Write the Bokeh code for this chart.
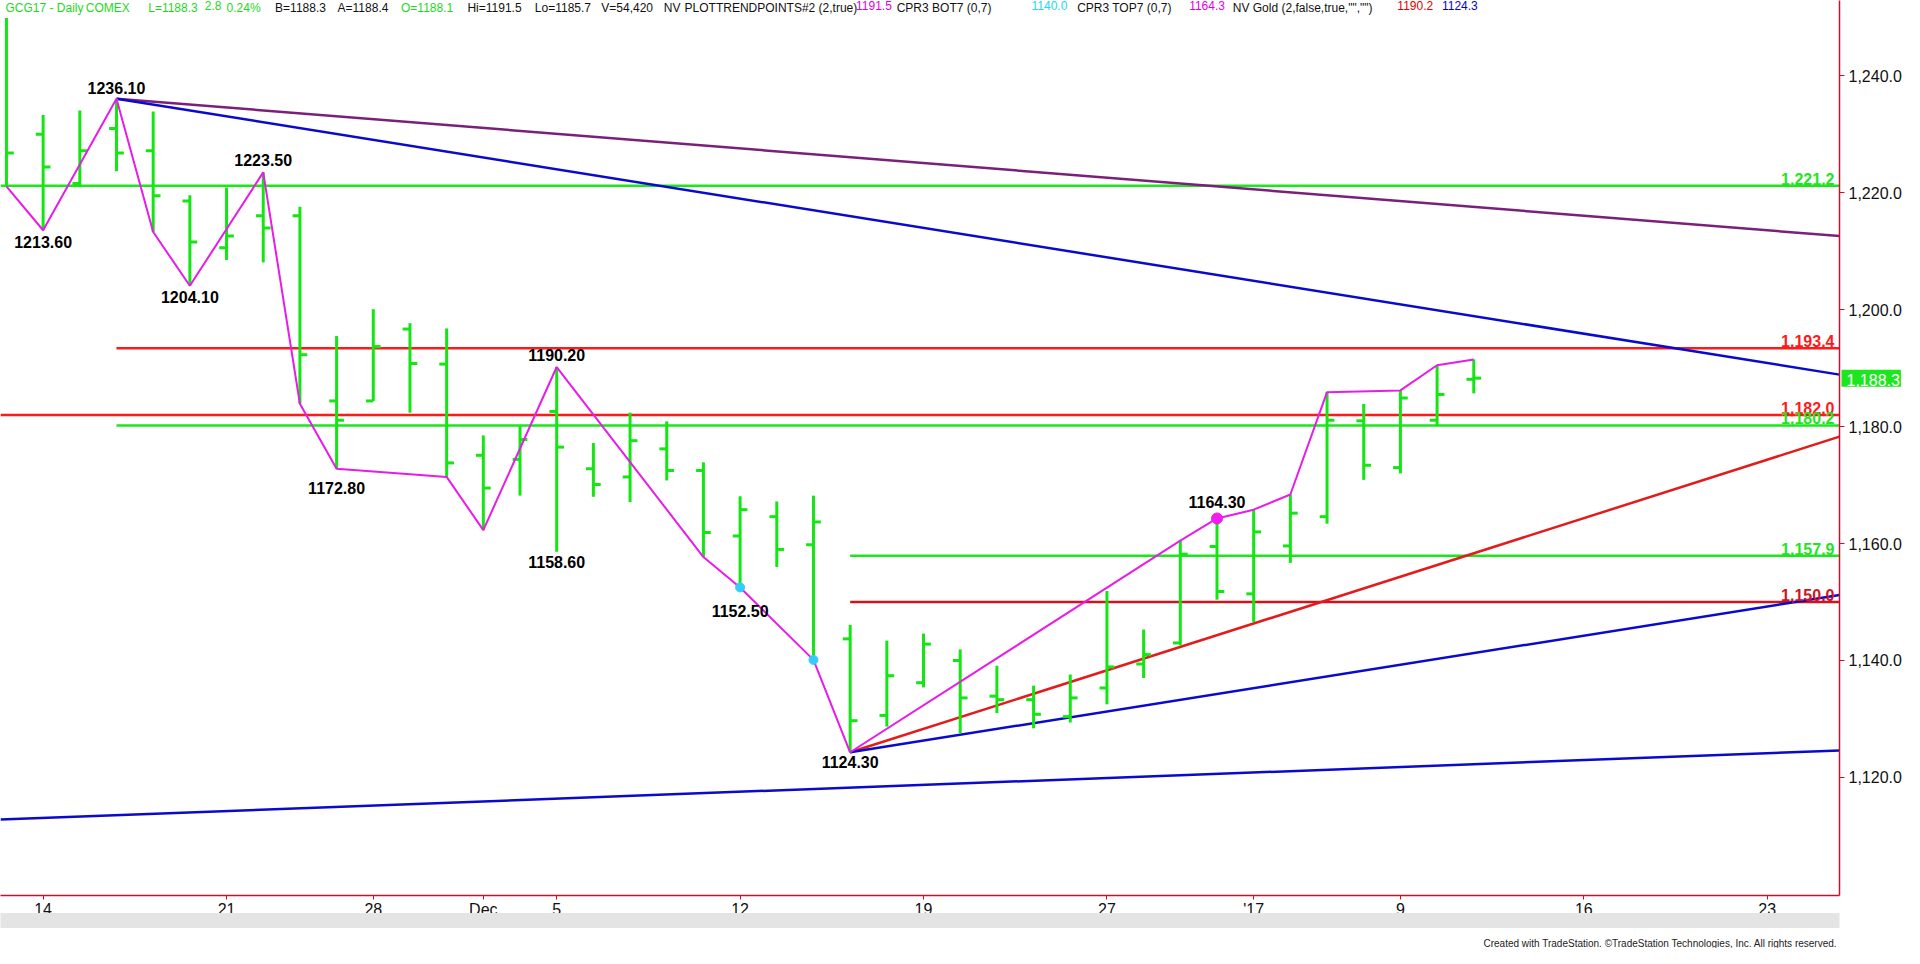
import numpy as np
from bokeh.plotting import figure
from bokeh.models import Range1d, LinearAxis, FixedTicker, NumeralTickFormatter, Label
from bokeh.embed import file_html
from bokeh.resources import INLINE
from bokeh.core.properties import value

# ---------------- data ----------------
bar_dates = ["2016-11-11", "2016-11-14", "2016-11-15", "2016-11-16", "2016-11-17", "2016-11-18",
             "2016-11-21", "2016-11-22", "2016-11-23", "2016-11-25", "2016-11-28", "2016-11-29",
             "2016-11-30", "2016-12-01", "2016-12-02", "2016-12-05", "2016-12-06", "2016-12-07",
             "2016-12-08", "2016-12-09", "2016-12-12", "2016-12-13", "2016-12-14", "2016-12-15",
             "2016-12-16", "2016-12-19", "2016-12-20", "2016-12-21", "2016-12-22", "2016-12-23",
             "2016-12-27", "2016-12-28", "2016-12-29", "2016-12-30", "2017-01-03", "2017-01-04",
             "2017-01-05", "2017-01-06", "2017-01-09", "2017-01-10", "2017-01-11"]
opens = [np.nan, 1230.0, 1221.6, 1231.0, 1227.2, 1218.6, 1210.6, 1216.1, 1216.1, 1184.4,
         1184.4, 1196.7, 1190.7, 1175.1, 1174.4, 1182.6, 1172.8, 1171.4, 1176.2, 1172.5,
         1161.3, 1164.6, 1159.8, 1143.7, 1130.6, 1136.2, 1140.0, 1133.9, 1133.3, 1130.4,
         1135.3, 1139.4, 1143.0, 1159.5, 1151.4, 1159.6, 1164.6, 1181.0, 1173.0, 1181.1, 1188.1]
highs = [1249.9, 1233.3, 1234.1, 1236.1, 1233.9, 1219.6, 1220.9, 1223.5, 1217.6, 1195.5,
         1200.1, 1197.7, 1196.8, 1178.5, 1180.1, 1190.2, 1177.2, 1182.4, 1180.9, 1173.9,
         1168.1, 1167.2, 1168.2, 1146.1, 1143.4, 1144.6, 1141.9, 1139.1, 1135.7, 1137.6,
         1151.9, 1145.3, 1160.5, 1164.3, 1165.8, 1168.4, 1185.9, 1183.9, 1186.2, 1190.5, 1191.5]
lows = [1221.1, 1213.6, 1221.1, 1223.7, 1213.3, 1204.1, 1208.5, 1208.1, 1183.9, 1172.8,
        1184.4, 1182.4, 1171.4, 1162.3, 1168.2, 1158.6, 1168.0, 1167.1, 1170.8, 1157.7,
        1152.5, 1156.0, 1140.1, 1124.3, 1128.7, 1135.4, 1127.6, 1131.0, 1128.4, 1129.4,
        1132.5, 1137.0, 1142.6, 1150.4, 1146.6, 1156.7, 1163.4, 1170.9, 1172.0, 1180.1, 1185.7]
closes = [1226.8, 1224.4, 1227.2, 1226.8, 1219.5, 1211.6, 1212.6, 1214.0, 1192.3, 1181.1,
          1193.7, 1190.8, 1173.8, 1169.5, 1177.8, 1176.5, 1170.1, 1177.6, 1172.5, 1161.9,
          1165.8, 1159.0, 1163.7, 1129.7, 1137.4, 1142.8, 1133.6, 1133.3, 1130.8, 1133.6,
          1138.9, 1141.0, 1158.2, 1151.8, 1162.0, 1165.2, 1181.1, 1173.4, 1184.9, 1185.5, 1188.3]

# bottom axis (trading-day index -> label)
date_tick_idx = [1, 6, 10, 13, 15, 20, 25, 30, 34, 38, 43, 48]
date_tick_labels = ["14", "21", "28", "Dec", "5", "12", "19", "27", "'17", "9", "16", "23"]

price_ticks = [1120, 1140, 1160, 1180, 1200, 1220, 1240]

# horizontal support / resistance levels
level_values = [1221.2, 1193.4, 1182.0, 1180.2, 1157.9, 1150.0]
level_start_idx = [None, 3, None, 3, 23, 23]          # None -> from the left edge
level_colors = ["#1EE61E", "#FF1A1A", "#FF1A1A", "#1EE61E", "#1EE61E", "#D0141E"]

# trend lines: start (bar index, price) -> price at right edge
trend_start_idx = [3, 3, 23, 23, None]
trend_start_val = [1236.1, 1236.1, 1124.3, 1124.3, 1112.8]
trend_end_val = [1212.6, 1188.9, 1178.3, 1151.2, 1124.6]
trend_colors = ["#7A1F7A", "#0A0ACC", "#E21B1B", "#0A0ACC", "#0A0ACC"]

# swing (zig-zag) line vertices: bar index and H/L
zz_idx = [0, 1, 3, 4, 5, 7, 8, 9, 12, 13, 15, 19, 20, 22, 23, 32, 33, 34, 35, 36, 38, 39, 40]
zz_kind = ["L", "L", "H", "L", "L", "H", "L", "L", "L", "L", "H", "L", "L", "L", "L",
           "H", "H", "H", "H", "H", "H", "H", "H"]

# labelled pivots
pivot_idx = [3, 1, 5, 7, 9, 15, 15, 20, 23, 33]
pivot_kind = ["H", "L", "L", "H", "L", "H", "L", "L", "L", "H"]
pivot_dy = [-11, 12, 11, -12, 19, -12, 10, 24, 10, -16]   # px offsets for label placement

cyan_idx = [20, 22]
magenta_idx = [33]

last_price = 1188.3

header_parts = [
    ("GCG17 - Daily", 5, "#1FD81F"), ("COMEX", 86, "#1FD81F"), ("L=1188.3", 149, "#1FD81F"),
    ("2.8", 206, "#1FD81F"), ("0.24%", 228, "#1FD81F"), ("B=1188.3", 277, "#111111"),
    ("A=1188.4", 340, "#111111"), ("O=1188.1", 404, "#1FD81F"), ("Hi=1191.5", 471, "#111111"),
    ("Lo=1185.7", 539, "#111111"), ("V=54,420", 606, "#111111"), ("NV", 669, "#111111"),
    ("PLOTTRENDPOINTS#2 (2,true)", 690, "#111111"), ("1191.5", 863, "#E000E0"),
    ("CPR3 BOT7 (0,7)", 904, "#111111"), ("1140.0", 1040, "#22D8EE"),
    ("CPR3 TOP7 (0,7)", 1086, "#111111"), ("1164.3", 1199, "#E000E0"),
    ('NV Gold (2,false,true,"","")', 1243, "#111111"), ("1190.2", 1409, "#E00000"),
    ("1124.3", 1454, "#0000DD"),
]

copyright_text = "Created with TradeStation. \u00a9TradeStation Technologies, Inc. All rights reserved."

# ---------------- layout constants ----------------
X_LO, X_HI = -0.162, 49.97
Y_LO, Y_HI = 1099.8, 1252.9
REF_W, REF_H = 1855.0, 908.0
FONT = "Liberation Sans"
BAR_GREEN = "#14E614"
AXIS_RED = "#C8102E"
BOX_GREEN = "#1EE61E"
FIG_W, FIG_H = 1904, 948


def xd(px):
    return X_LO + px / REF_W * (X_HI - X_LO)


def yd(py):
    return Y_HI - py / REF_H * (Y_HI - Y_LO)


idx = np.arange(len(closes), dtype=float)
o = np.array(opens, dtype=float)
h = np.array(highs, dtype=float)
l = np.array(lows, dtype=float)
c = np.array(closes, dtype=float)

p = figure(width=FIG_W, height=FIG_H, x_range=Range1d(X_LO, X_HI), y_range=Range1d(Y_LO, Y_HI),
           y_axis_location="right", output_backend="svg", toolbar_location=None,
           min_border_left=0, min_border_top=0, min_border_right=0, min_border_bottom=0,
           background_fill_color="white", border_fill_color="white", outline_line_color=None)
p.grid.visible = False

# --- level lines
lx0 = [X_LO if s is None else float(s) for s in level_start_idx]
p.segment(x0=lx0, y0=level_values, x1=[X_HI] * len(level_values), y1=level_values,
          line_color=level_colors, line_width=2.5)

# --- trend lines
tx0 = [X_LO if s is None else float(s) for s in trend_start_idx]
p.segment(x0=tx0, y0=trend_start_val, x1=[X_HI] * len(trend_end_val), y1=trend_end_val,
          line_color=trend_colors, line_width=2.5)

# --- OHLC bars
tw = 0.2
p.segment(x0=idx, y0=l, x1=idx, y1=h, line_color=BAR_GREEN, line_width=3)
p.segment(x0=idx - tw, y0=o, x1=idx, y1=o, line_color=BAR_GREEN, line_width=3)
p.segment(x0=idx, y0=c, x1=idx + tw, y1=c, line_color=BAR_GREEN, line_width=3)

# --- swing line
zz_y = [h[i] if k == "H" else l[i] for i, k in zip(zz_idx, zz_kind)]
p.line(x=zz_idx, y=zz_y, line_color="#E81CE8", line_width=2)

p.scatter(x=cyan_idx, y=[l[i] for i in cyan_idx], size=9, marker="circle",
          fill_color="#33CCFF", line_color="#33CCFF")
p.scatter(x=magenta_idx, y=[h[i] for i in magenta_idx], size=11, marker="circle",
          fill_color="#F01CF0", line_color="#F01CF0")

# --- pivot labels
pv_y = [h[i] if k == "H" else l[i] for i, k in zip(pivot_idx, pivot_kind)]
p.text(x=pivot_idx, y=pv_y, text=[f"{v:.2f}" for v in pv_y], y_offset=pivot_dy,
       text_align="center", text_baseline="middle", text_font=value(FONT),
       text_font_style="bold", text_font_size=value("16px"), text_color="#000000")

# --- level value labels
p.text(x=[X_HI] * len(level_values), y=level_values,
       text=[f"{v:,.1f}" for v in level_values], x_offset=-5, y_offset=-1,
       text_align="right", text_baseline="bottom", text_font=value(FONT),
       text_font_style="bold", text_font_size=value("16px"), text_color=level_colors)

# --- header line
for txt, px, col in header_parts:
    p.add_layout(Label(x=xd(px), y=yd(1), text=txt, text_align="left", text_baseline="top",
                       text_font=FONT, text_font_size="12px", text_color=col))

# --- right price axis
ya = p.yaxis[0]
ya.ticker = FixedTicker(ticks=price_ticks)
ya.formatter = NumeralTickFormatter(format="0,0.0")
ya.axis_line_color = AXIS_RED
ya.axis_line_width = 1.5
ya.major_tick_line_color = AXIS_RED
ya.major_tick_in = 0
ya.major_tick_out = 5
ya.minor_tick_line_color = None
ya.major_label_standoff = 4
ya.major_label_text_font = FONT
ya.major_label_text_font_size = "16px"
ya.major_label_text_color = "#111111"

# --- bottom date axis
xa = p.xaxis[0]
xa.ticker = FixedTicker(ticks=date_tick_idx)
xa.major_label_overrides = {t: s for t, s in zip(date_tick_idx, date_tick_labels)}
xa.axis_line_color = AXIS_RED
xa.axis_line_width = 1.5
xa.major_tick_line_color = AXIS_RED
xa.major_tick_in = 0
xa.major_tick_out = 4
xa.minor_tick_line_color = None
xa.major_label_standoff = 1
xa.major_label_text_font = FONT
xa.major_label_text_font_size = "16px"
xa.major_label_text_color = "#111111"
try:
    xa.major_label_text_line_height = 1.75
except Exception:
    pass

# --- scrollbar strip imitation
sb = LinearAxis(ticker=FixedTicker(ticks=[]), axis_line_color="#E4E4E4", axis_line_width=15,
                major_tick_in=0, major_tick_out=0, minor_tick_in=0, minor_tick_out=0,
                major_label_text_font_size="0px", major_label_standoff=0)
p.add_layout(sb, "below")

# --- last price marker: kept in a side panel so it is not clipped to the plot frame;
#     it is positioned in data coordinates just right of the price axis line
price_lbl = Label(x=X_HI, y=last_price, x_units="data", y_units="data", x_offset=2,
                  text=f"{last_price:,.1f}", text_align="left", text_baseline="middle",
                  text_font=FONT, text_font_size="16px", text_color="white",
                  background_fill_color=BOX_GREEN)
try:
    price_lbl.padding = (5, 1, 4, 1)
except Exception:
    pass
p.add_layout(price_lbl, "below")

# --- copyright note, right-aligned under the plot
cr_lbl = Label(x=X_HI, y=0, x_units="data", y_units="screen", x_offset=-2,
               text=copyright_text, text_align="right", text_baseline="bottom",
               text_font=FONT, text_font_size="10px", text_color="#222222")
p.add_layout(cr_lbl, "below")

open("out.html", "w").write(file_html(p, INLINE))
